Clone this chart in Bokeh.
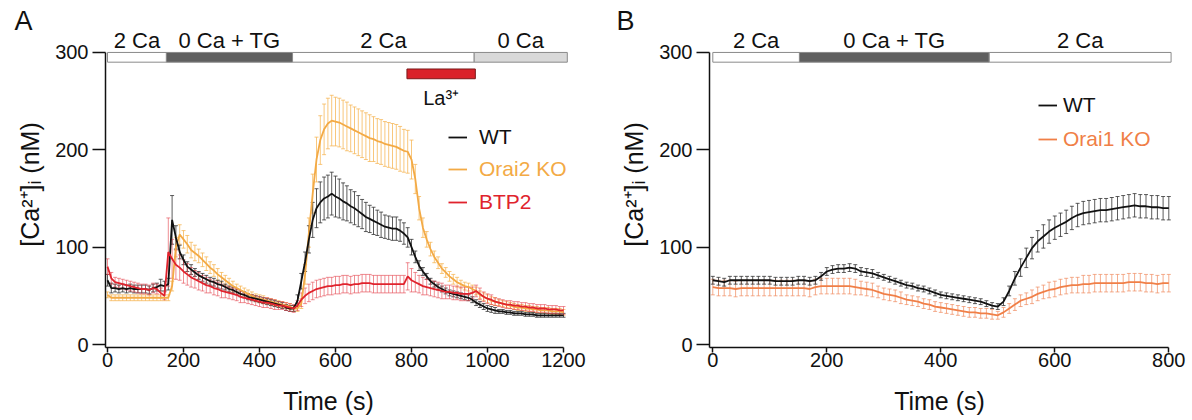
from bokeh.plotting import figure
from bokeh.models import (ColumnDataSource, Whisker, TeeHead, Range1d, FixedTicker,
                          Label, Legend, LegendItem, LinearAxis)
from bokeh.layouts import row
from bokeh.embed import file_html
from bokeh.resources import INLINE
from bokeh.core.properties import value

# ---------------- data : panel A ----------------
time_a = list(range(0, 1201, 10))
wt_a = [66, 58, 58, 57, 58, 57, 58, 57, 57, 57,
        57, 56, 58, 59, 61, 60, 62, 128, 110, 95,
        87, 80, 77, 74, 71, 69, 67, 65, 64, 62,
        61, 59, 57, 56, 54, 52, 51, 49, 48, 47,
        46, 45, 44, 43, 42, 41, 40, 38, 37, 37,
        45, 65, 85, 108, 128, 140, 146, 150, 152, 155,
        152, 150, 147, 145, 142, 140, 137, 134, 131, 129,
        127, 125, 123, 121, 120, 119, 119, 117, 114, 110,
        100, 90, 81, 75, 70, 65, 62, 59, 57, 55,
        53, 52, 51, 50, 49, 48, 46, 43, 41, 39,
        37, 36, 35, 34, 34, 33, 33, 32, 32, 32,
        31, 31, 31, 30, 30, 30, 30, 30, 30, 30,
        30]
wt_a_err = [6, 5, 4, 4, 4, 4, 4, 4, 4, 4,
            4, 4, 4, 4, 6, 5, 6, 25, 12, 7,
            5, 5, 5, 4, 4, 4, 4, 4, 4, 4,
            4, 3, 3, 3, 3, 3, 3, 3, 3, 3,
            3, 3, 3, 3, 3, 3, 3, 3, 3, 3,
            6, 8, 10, 14, 18, 20, 21, 22, 22, 22,
            21, 20, 19, 18, 17, 17, 16, 15, 15, 14,
            14, 13, 13, 12, 12, 12, 12, 11, 11, 10,
            8, 6, 5, 4, 3, 3, 3, 3, 3, 3,
            3, 3, 3, 3, 3, 3, 3, 3, 3, 3,
            3, 3, 3, 2, 2, 2, 2, 2, 2, 2,
            2, 2, 2, 2, 2, 2, 2, 2, 2, 2,
            2]
orai2_a = [51, 48, 48, 48, 48, 48, 48, 48, 48, 48,
           48, 48, 48, 48, 48, 48, 48, 60, 100, 113,
           108, 103, 97, 94, 91, 87, 83, 79, 76, 72,
           69, 66, 63, 60, 58, 56, 54, 52, 50, 48,
           47, 46, 45, 44, 43, 42, 41, 40, 39, 37,
           37, 42, 72, 115, 155, 190, 210, 221, 227, 230,
           229, 228, 226, 224, 222, 220, 218, 216, 214, 212,
           211, 209, 208, 206, 205, 204, 203, 201, 199, 198,
           190, 170, 140, 120, 108, 98, 90, 84, 78, 74,
           70, 67, 64, 62, 60, 59, 57, 55, 51, 49,
           47, 45, 44, 43, 42, 41, 40, 39, 38, 38,
           37, 37, 36, 36, 35, 35, 35, 34, 34, 34,
           33]
orai2_a_err = [3, 3, 3, 3, 3, 3, 3, 3, 3, 3,
               3, 3, 3, 3, 3, 3, 3, 5, 10, 10,
               9, 9, 8, 8, 7, 7, 7, 6, 6, 6,
               5, 5, 5, 5, 4, 4, 4, 4, 4, 4,
               4, 4, 3, 3, 3, 3, 3, 3, 3, 3,
               3, 5, 10, 15, 20, 23, 25, 26, 26, 26,
               25, 25, 25, 25, 24, 24, 24, 24, 24, 24,
               23, 23, 23, 23, 23, 23, 23, 23, 22, 22,
               20, 15, 12, 10, 8, 7, 6, 6, 5, 5,
               5, 5, 5, 4, 4, 4, 4, 4, 4, 4,
               4, 4, 4, 3, 3, 3, 3, 3, 3, 3,
               3, 3, 3, 3, 3, 3, 3, 3, 3, 3,
               3]
btp2_a = [80, 68, 64, 63, 62, 61, 60, 59, 58, 57,
          57, 56, 58, 57, 53, 50, 95, 88, 82, 79,
          75, 72, 69, 67, 65, 63, 61, 60, 58, 57,
          55, 54, 53, 52, 51, 49, 48, 47, 46, 45,
          44, 43, 43, 42, 41, 40, 40, 39, 38, 37,
          40, 46, 50, 53, 55, 57, 58, 59, 60, 60,
          61, 61, 62, 62, 61, 62, 62, 63, 63, 63,
          62, 62, 62, 62, 62, 62, 62, 62, 62, 70,
          66, 64, 62, 60, 59, 58, 57, 56, 55, 54,
          54, 53, 53, 52, 52, 52, 53, 55, 52, 49,
          47, 46, 44, 43, 42, 41, 41, 40, 40, 39,
          39, 38, 38, 37, 37, 37, 36, 36, 36, 35,
          35]
btp2_a_err = [8, 6, 5, 5, 5, 5, 5, 5, 5, 5,
              5, 5, 5, 5, 5, 4, 35, 20, 15, 13,
              12, 11, 10, 9, 9, 8, 8, 7, 7, 7,
              7, 6, 6, 6, 6, 6, 5, 5, 5, 5,
              5, 5, 5, 5, 5, 4, 4, 4, 4, 4,
              5, 7, 8, 9, 9, 9, 9, 9, 9, 9,
              9, 9, 9, 9, 9, 9, 9, 9, 9, 9,
              9, 9, 9, 9, 9, 9, 9, 9, 9, 14,
              12, 10, 9, 9, 8, 8, 8, 8, 8, 7,
              7, 7, 7, 7, 7, 7, 6, 6, 6, 5,
              5, 5, 4, 4, 4, 4, 4, 4, 4, 4,
              4, 4, 4, 4, 4, 4, 4, 4, 4, 4,
              4]
cond_a_start = [0, 155, 487, 965]
cond_a_end = [155, 487, 965, 1210]
cond_a_label = ["2 Ca", "0 Ca + TG", "2 Ca", "0 Ca"]
la_start, la_end, la_label = [788], [968], ["La³⁺"]
xticks_a = [0, 200, 400, 600, 800, 1000, 1200]

# ---------------- data : panel B ----------------
time_b = list(range(0, 801, 10))
wt_b = [66, 65, 64, 66, 66, 66, 66, 66, 66, 66,
        66, 65, 65, 65, 65, 66, 66, 65, 66, 70,
        75, 77, 78, 78, 79, 78, 75, 74, 73, 71,
        69, 67, 65, 63, 61, 60, 58, 57, 55, 53,
        51, 50, 49, 48, 47, 46, 45, 44, 42, 40,
        39, 44, 55, 68, 79, 89, 99, 106, 111, 116,
        120, 123, 126, 130, 133, 135, 136, 137, 138, 138,
        139, 140, 141, 142, 143, 142, 142, 141, 141, 140,
        140]
wt_b_err = [4, 4, 4, 4, 4, 4, 4, 4, 4, 4,
            4, 4, 4, 4, 4, 4, 4, 4, 4, 4,
            4, 4, 4, 4, 4, 4, 4, 4, 4, 3,
            3, 3, 3, 3, 3, 3, 3, 3, 3, 3,
            3, 3, 3, 3, 3, 3, 3, 3, 3, 3,
            3, 4, 5, 7, 9, 10, 11, 11, 12, 12,
            12, 12, 12, 12, 12, 12, 12, 12, 12, 12,
            12, 12, 12, 12, 12, 12, 12, 12, 12, 12,
            12]
orai1_b = [59, 58, 58, 58, 57, 58, 58, 58, 58, 58,
           58, 58, 58, 58, 58, 58, 58, 57, 59, 60,
           60, 60, 60, 60, 60, 59, 58, 57, 56, 54,
           52, 51, 50, 48, 46, 45, 44, 42, 41, 39,
           38, 37, 36, 35, 34, 33, 33, 32, 32, 31,
           30, 33, 37, 41, 45, 47, 49, 52, 54, 56,
           57, 59, 60, 61, 61, 62, 62, 63, 63, 63,
           63, 63, 63, 64, 64, 64, 63, 63, 62, 63,
           63]
orai1_b_err = [8, 8, 8, 8, 8, 8, 8, 8, 8, 8,
               8, 8, 8, 8, 8, 8, 8, 8, 8, 8,
               8, 8, 8, 8, 8, 8, 7, 7, 7, 6,
               6, 6, 6, 6, 5, 5, 5, 5, 5, 5,
               5, 5, 5, 5, 5, 5, 5, 5, 5, 5,
               4, 5, 5, 6, 6, 6, 7, 7, 7, 8,
               8, 8, 8, 8, 8, 9, 9, 9, 9, 9,
               9, 9, 9, 9, 9, 9, 9, 9, 9, 9,
               9]
cond_b_start = [0, 152, 485]
cond_b_end = [152, 485, 804]
cond_b_label = ["2 Ca", "0 Ca + TG", "2 Ca"]
xticks_b = [0, 200, 400, 600, 800]
yticks = [0, 100, 200, 300]

for arr, n in [(wt_a, 121), (wt_a_err, 121), (orai2_a, 121), (orai2_a_err, 121),
               (btp2_a, 121), (btp2_a_err, 121), (wt_b, 81), (wt_b_err, 81),
               (orai1_b, 81), (orai1_b_err, 81)]:
    assert len(arr) == n, (len(arr), n)

# ---------------- styling ----------------
FONT = "Liberation Sans"
COND_COLORS = {"2 Ca": "#ffffff", "0 Ca + TG": "#5f5f5f", "0 Ca": "#d9d9d9"}
C_WT = "#111111"
C_O2 = "#F3AA45"
C_BTP = "#E0232D"
C_O1 = "#F07F47"
H = 420
YPX = 0.9735             # pixels per nM
Y_ZERO_PX = 344          # screen row of 0 nM
Y0 = -(H - Y_ZERO_PX) / YPX
Y1 = Y_ZERO_PX / YPX
Y_AXIS_LOW = -3.1
X_TITLE = "Time (s)"
Y_TITLE = "[Ca²⁺]ᵢ (nM)"


def label_axis(text, bounds, loc, standoff):
    ax = LinearAxis(ticker=FixedTicker(ticks=[]), axis_label=text, bounds=bounds,
                    fixed_location=loc, axis_line_color=None,
                    major_tick_line_color=None, minor_tick_line_color=None,
                    major_tick_out=0, major_tick_in=0, minor_tick_out=0,
                    axis_label_standoff=standoff, axis_label_text_font=FONT,
                    axis_label_text_font_size="25px", axis_label_text_font_style="normal",
                    axis_label_text_color="#111111")
    return ax


def make_fig(width, xpx, x0px, ax_left_px, xmax, xticks, xtitle_center_px):
    xs = -x0px / xpx
    xe = (width - x0px) / xpx
    x_axis_loc = (ax_left_px - x0px) / xpx
    p = figure(width=width, height=H, output_backend="svg", toolbar_location=None,
               x_range=Range1d(xs, xe), y_range=Range1d(Y0, Y1), min_border=0)
    p.grid.visible = False
    p.outline_line_color = None
    p.background_fill_color = "white"
    p.border_fill_color = "white"
    for ax in (p.xaxis[0], p.yaxis[0]):
        ax.axis_line_width = 1.5
        ax.axis_line_color = "#111111"
        ax.major_tick_line_width = 1.5
        ax.major_tick_line_color = "#111111"
        ax.minor_tick_line_color = None
        ax.major_tick_in = 0
        ax.major_label_text_font = FONT
        ax.major_label_text_font_size = "20px"
        ax.major_label_text_color = "#111111"
    xa, ya = p.xaxis[0], p.yaxis[0]
    xa.major_tick_out = 5
    xa.major_label_standoff = 0
    ya.major_tick_out = 13
    ya.major_label_standoff = 4
    xa.ticker = FixedTicker(ticks=xticks)
    ya.ticker = FixedTicker(ticks=yticks)
    xa.bounds = (x_axis_loc, xmax)
    ya.bounds = (Y_AXIS_LOW, 300)
    xa.fixed_location = Y_AXIS_LOW
    ya.fixed_location = x_axis_loc
    # axis titles (label-only axes so the titles sit where the reference puts them)
    yc = (Y_ZERO_PX - 184) / YPX
    p.add_layout(label_axis(Y_TITLE, (Y_AXIS_LOW, 2 * yc - Y_AXIS_LOW), x_axis_loc, 62), "left")
    xc = (xtitle_center_px - x0px) / xpx
    p.add_layout(label_axis(X_TITLE, (x_axis_loc, 2 * xc - x_axis_loc), Y_AXIS_LOW, 39), "below")
    return p


def add_series(p, t, m, e, color, ecolor, ealpha, lw=1.8):
    src = ColumnDataSource(dict(t=t, m=m,
                                lo=[a - b for a, b in zip(m, e)],
                                up=[a + b for a, b in zip(m, e)]))
    w = Whisker(source=src, base="t", lower="lo", upper="up",
                line_color=ecolor, line_alpha=ealpha, line_width=1,
                upper_head=TeeHead(size=4, line_color=ecolor, line_alpha=ealpha, line_width=1),
                lower_head=TeeHead(size=4, line_color=ecolor, line_alpha=ealpha, line_width=1))
    p.add_layout(w)
    return p.line("t", "m", source=src, line_color=color, line_width=lw)


def add_conditions(p, starts, ends, labels):
    src = ColumnDataSource(dict(l=starts, r=ends, lab=labels,
                                c=[COND_COLORS[s] for s in labels],
                                xc=[(a + b) / 2 for a, b in zip(starts, ends)]))
    p.quad(left="l", right="r", bottom=290, top=300, fill_color="c",
           line_color="#8a8a8a", line_width=1, source=src)
    p.text(x="xc", y=312, text="lab", source=src, text_font=value(FONT),
           text_font_size="22px", text_align="center", text_baseline="alphabetic",
           text_color="#111111")


def add_legend(p, renderer, label, color, sx, sy, standoff):
    lg = Legend(items=[LegendItem(label=label, renderers=[renderer])],
                location=(sx, sy), orientation="vertical",
                label_text_font=FONT, label_text_font_size="21px",
                label_text_color=color, glyph_width=19, glyph_height=20,
                label_height=20, label_standoff=standoff, padding=0, margin=0,
                spacing=0, border_line_color=None, background_fill_alpha=0)
    p.add_layout(lg)


# ---------------- panel A ----------------
pA = make_fig(600, 0.38, 107, 105, 1200, xticks_a, 328)
add_conditions(pA, cond_a_start, cond_a_end, cond_a_label)
la_src = ColumnDataSource(dict(l=la_start, r=la_end, lab=la_label,
                               xc=[(a + b) / 2 for a, b in zip(la_start, la_end)]))
pA.quad(left="l", right="r", bottom=273, top=283, fill_color="#DA2129",
        line_color="#7a1a1a", line_width=1, source=la_src)
pA.text(x="xc", y=253, text="lab", source=la_src, text_font=value(FONT),
        text_font_size="20px", text_align="center", text_baseline="alphabetic",
        text_color="#111111")
r_o2 = add_series(pA, time_a, orai2_a, orai2_a_err, C_O2, "#F5B452", 0.75)
r_wt = add_series(pA, time_a, wt_a, wt_a_err, C_WT, "#333333", 0.8)
r_bt = add_series(pA, time_a, btp2_a, btp2_a_err, C_BTP, "#E5434C", 0.6)
add_legend(pA, r_wt, "WT", "#111111", 448, 271, 12)
add_legend(pA, r_o2, "Orai2 KO", C_O2, 448, 239, 12)
add_legend(pA, r_bt, "BTP2", C_BTP, 448, 206, 12)
pA.add_layout(Label(x=(14 - 107) / 0.38, y=(Y_ZERO_PX - 5) / YPX, text="A",
                    text_font=FONT, text_font_size="27px", text_baseline="top",
                    text_align="left", text_color="#111111"))

# ---------------- panel B ----------------
pB = make_fig(592, 0.57, 112.3, 109, 800, xticks_b, 339)
add_conditions(pB, cond_b_start, cond_b_end, cond_b_label)
r_o1 = add_series(pB, time_b, orai1_b, orai1_b_err, C_O1, "#F08A5E", 0.7)
r_wtb = add_series(pB, time_b, wt_b, wt_b_err, C_WT, "#333333", 0.8)
add_legend(pB, r_wtb, "WT", "#111111", 438, 303, 6)
add_legend(pB, r_o1, "Orai1 KO", C_O1, 438, 269, 6)
pB.add_layout(Label(x=(16 - 112.3) / 0.57, y=(Y_ZERO_PX - 5) / YPX, text="B",
                    text_font=FONT, text_font_size="27px", text_baseline="top",
                    text_align="left", text_color="#111111"))

layout = row(pA, pB)
open("out.html", "w").write(file_html(layout, INLINE, title="Ca2+ imaging"))
